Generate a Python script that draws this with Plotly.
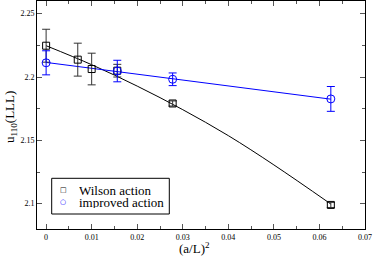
import plotly.graph_objects as go

# Data
x_wilson = [0.0, 1/144, 0.01, 1/64, 1/36, 1/16]
y_wilson = [2.2247, 2.2137, 2.2063, 2.2050, 2.1791, 2.0990]
e_wilson = [0.013, 0.013, 0.0125, 0.005, 0.002, 0.002]

x_impr = [0.0, 1/64, 1/36, 1/16]
y_impr = [2.2112, 2.2047, 2.1982, 2.1827]
e_impr = [0.0095, 0.0085, 0.005, 0.0098]

# Fit curves
x_fit_w = [0.0, 0.01, 0.02, 0.03, 0.04, 0.05, 0.0625]
y_fit_w = [2.2247, 2.2097, 2.1928, 2.1742, 2.1537, 2.1306, 2.0997]
x_fit_i = [0.0, 0.0625]
y_fit_i = [2.2115, 2.1825]

series_names = ["Wilson action", "improved action"]
series_colors = ["black", "#0000ff"]
series_glyphs = ["□", "○"]

fnt = "Liberation Serif"

fig = go.Figure()
fig.add_trace(go.Scatter(x=x_fit_w, y=y_fit_w, mode="lines", line=dict(color="black", width=1, shape="spline"),
                         showlegend=False, hoverinfo="skip"))
fig.add_trace(go.Scatter(x=x_fit_i, y=y_fit_i, mode="lines", line=dict(color="#0000ff", width=1),
                         showlegend=False, hoverinfo="skip"))
fig.add_trace(go.Scatter(x=x_wilson, y=y_wilson, mode="markers", name=series_names[0], showlegend=False,
                         marker=dict(symbol="square-open", size=7, color="black", line=dict(width=1)),
                         error_y=dict(type="data", array=e_wilson, color="#333333", thickness=1, width=4)))
fig.add_trace(go.Scatter(x=x_impr, y=y_impr, mode="markers", name=series_names[1], showlegend=False,
                         marker=dict(symbol="circle-open", size=8, color="#0000ff", line=dict(width=1)),
                         error_y=dict(type="data", array=e_impr, color="#0000ff", thickness=1, width=4)))

axis_common = dict(showline=True, linecolor="black", linewidth=1, mirror="ticks", ticks="inside",
                   tickcolor="#555555", ticklen=5, tickwidth=1, showgrid=False, zeroline=False,
                   automargin=False,
                   tickfont=dict(family=fnt, size=8, color="black"))
fig.update_xaxes(range=[-0.002, 0.07], dtick=0.01, tick0=0,
                 minor=dict(ticks="inside", dtick=0.005, ticklen=3, tickcolor="#555555"),
                 **axis_common)
fig.update_yaxes(range=[2.08, 2.26], dtick=0.05, tick0=2.1,
                 minor=dict(ticks="inside", dtick=0.025, ticklen=3, tickcolor="#555555"),
                 **axis_common)

# plot area in pixels: x 37..365, y 1..229
def px(x):
    return (x - 37) / 328.0

def py(y):
    return (229 - y) / 228.0

# Axis titles
fig.add_annotation(text="(a/L)<sup>2</sup>", xref="paper", yref="paper", x=px(194), y=py(248),
                   showarrow=False, font=dict(family=fnt, size=13, color="black"), xanchor="center", yanchor="middle")
fig.add_annotation(text="u<sub>110</sub>(LLL)", xref="paper", yref="paper", x=px(10), y=py(117), textangle=-90,
                   showarrow=False, font=dict(family=fnt, size=13, color="black"), xanchor="center", yanchor="middle")

# Legend (manual)
fig.add_shape(type="rect", xref="paper", yref="paper", x0=px(51.7), x1=px(169.3), y0=py(214), y1=py(178.3),
              line=dict(color="black", width=1), fillcolor="white", layer="above")
for i, (nm, col, gl) in enumerate(zip(series_names, series_colors, series_glyphs)):
    yy = py(190 + 12.3 * i)
    fig.add_annotation(text=gl, xref="paper", yref="paper", x=px(63), y=yy, showarrow=False,
                       font=dict(family="DejaVu Sans", size=7, color=col), xanchor="center", yanchor="middle")
    fig.add_annotation(text=nm, xref="paper", yref="paper", x=px(77), y=yy, showarrow=False, height=12,
                       font=dict(family=fnt, size=13, color="black"), xanchor="left", yanchor="middle")

fig.update_layout(width=374, height=261, margin=dict(l=37, r=9, t=1, b=32),
                  plot_bgcolor="white", paper_bgcolor="white", showlegend=False)
fig.write_html("out.html", config={"displayModeBar": False},
               post_script="document.body.style.margin='0';document.body.style.overflow='hidden';")
